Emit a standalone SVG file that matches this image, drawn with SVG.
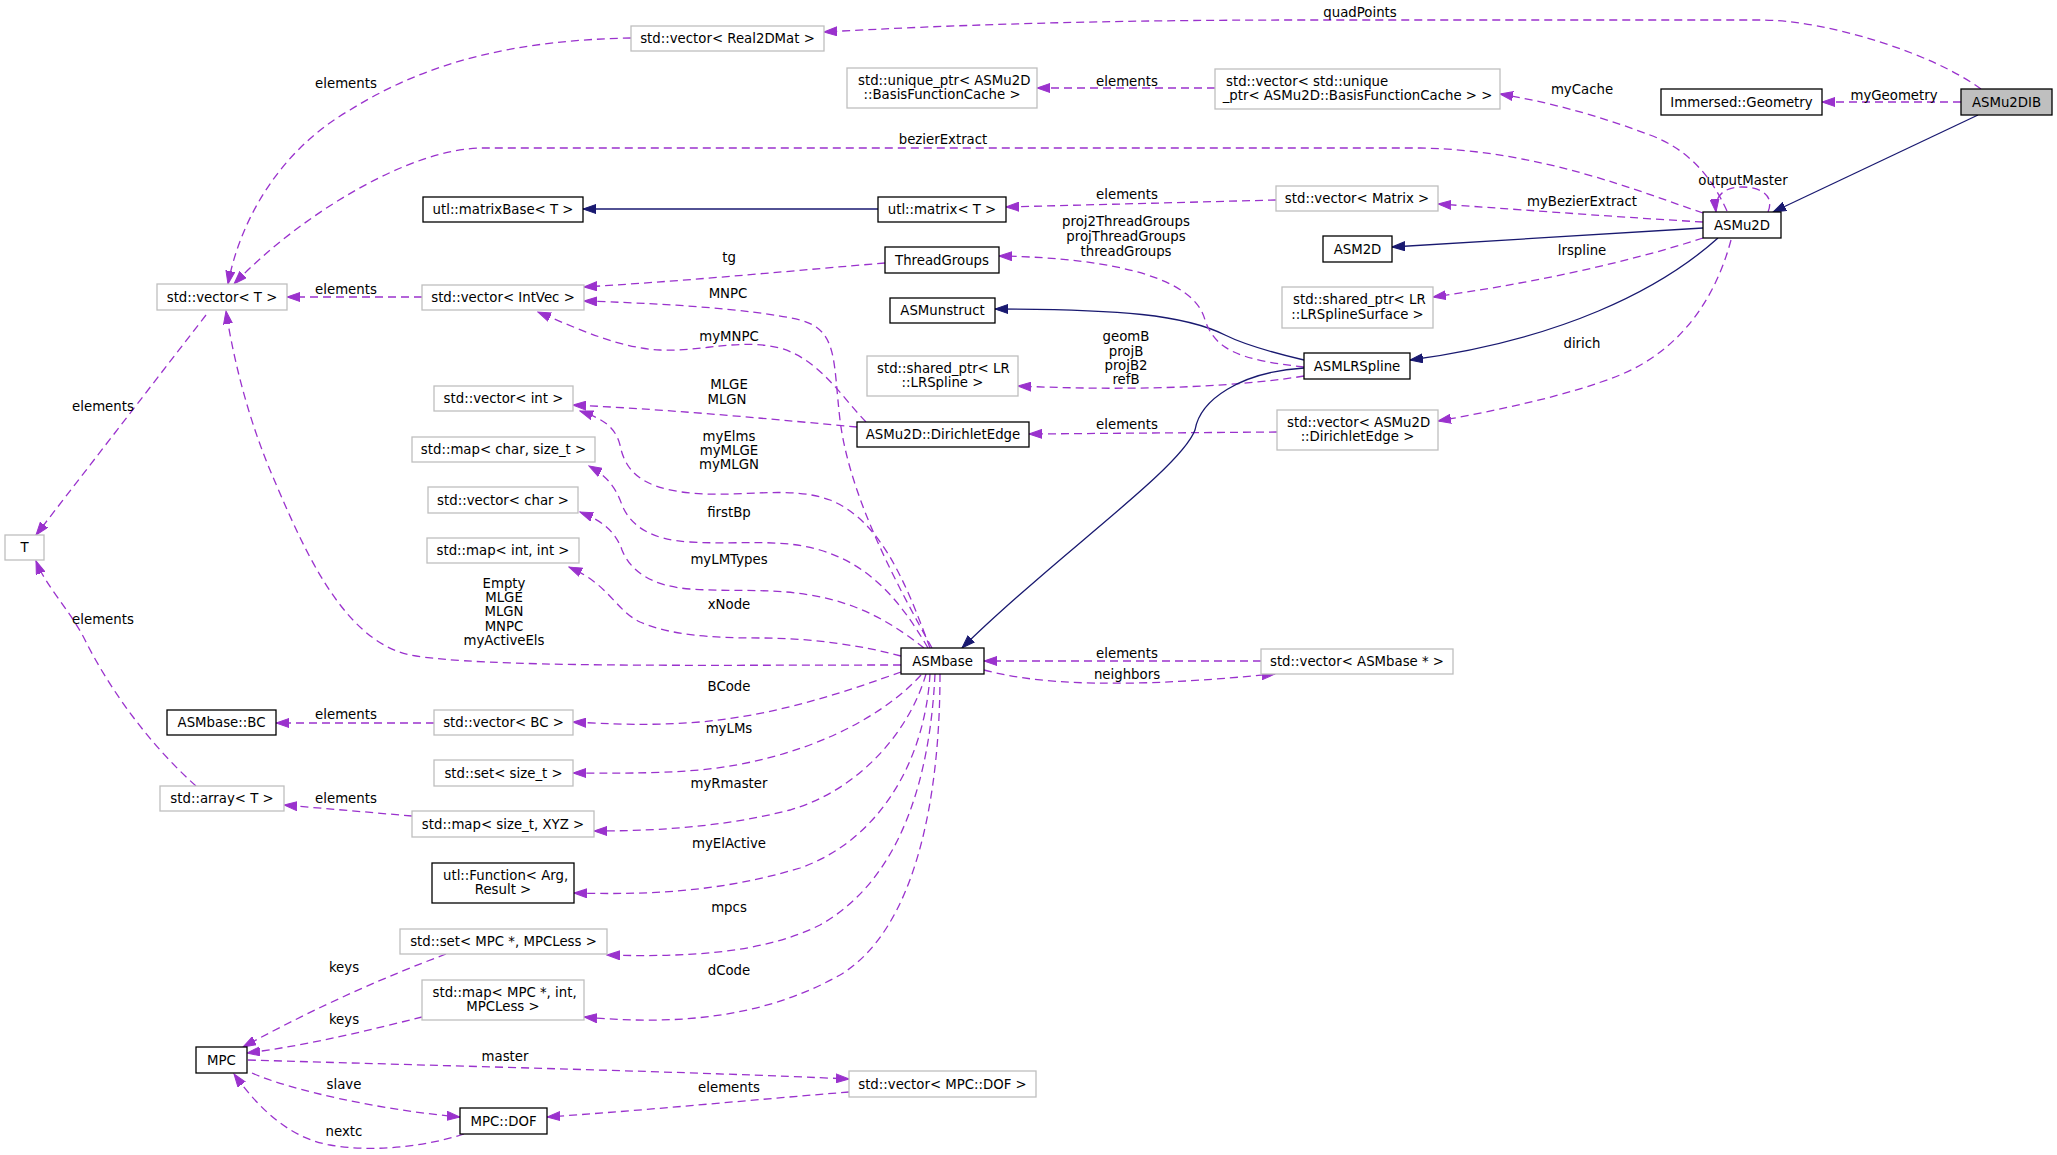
<svg xmlns="http://www.w3.org/2000/svg" width="2057" height="1155" viewBox="0 0 2057 1155">
<defs>
<style>
text { font-family: "DejaVu Sans", "Liberation Sans", sans-serif; font-size: 13.3px; fill: #000; }
.c { text-anchor: middle; }
.nb rect { fill: #fff; stroke: #000; stroke-width: 1.3; }
.ng rect { fill: #fff; stroke: #bfbfbf; stroke-width: 1.3; }
.e { fill: none; stroke: #9a32cd; stroke-width: 1.3; stroke-dasharray: 8,5; marker-end: url(#ap); }
.i { fill: none; stroke: #191970; stroke-width: 1.3; marker-end: url(#ab); }
</style>
<marker id="ap" markerUnits="userSpaceOnUse" markerWidth="14" markerHeight="10" viewBox="0 0 14 10" refX="13" refY="5" orient="auto"><path d="M0,0.5 L13,5 L0,9.5 z" fill="#9a32cd" stroke="#9a32cd" stroke-width="1"/></marker>
<marker id="ab" markerUnits="userSpaceOnUse" markerWidth="14" markerHeight="10" viewBox="0 0 14 10" refX="13" refY="5" orient="auto"><path d="M0,0.5 L13,5 L0,9.5 z" fill="#191970" stroke="#191970" stroke-width="1"/></marker>
</defs>
<rect x="0" y="0" width="2057" height="1155" fill="#fff"/>

<g id="connectors">
<g><path class="e" d="M1981,89 C1935,55 1830,20 1760,20 L1300,20 C1100,20 950,25 824,32"/><text class="c" x="1360" y="16.5">quadPoints</text></g>
<g><path class="e" d="M1961,102 L1822,102"/><text class="c" x="1894" y="99.5">myGeometry</text></g>
<g><path class="i" d="M1978,115 L1773,212"/></g>
<g><path class="e" d="M1215,88 L1037,88"/><text class="c" x="1127" y="85.5">elements</text></g>
<g><path class="e" d="M1727,211 C1712,178 1690,150 1650,135 C1610,120 1560,104 1500,94"/><text class="c" x="1582" y="93.5">myCache</text></g>
<g><path class="e" d="M1768,212 C1775,195 1760,187 1742,187 C1725,187 1714,195 1716,212"/><text class="c" x="1743" y="184.5">outputMaster</text></g>
<g><path class="e" d="M1703,213 C1640,192 1540,150 1420,148 L483,148 C410,148 300,215 234,284"/><text class="c" x="943" y="143.5">bezierExtract</text></g>
<g><path class="e" d="M1703,222 C1600,216 1500,208 1438,204"/><text class="c" x="1582" y="205.5">myBezierExtract</text></g>
<g><path class="e" d="M1276,200 L1006,207"/><text class="c" x="1127" y="198.5">elements</text></g>
<g><path class="i" d="M878,209 L583,209"/></g>
<g><path class="i" d="M1703,228 L1392,247"/></g>
<g><path class="e" d="M1703,238 C1620,265 1520,285 1433,297"/><text class="c" x="1582" y="254.5">lrspline</text></g>
<g><path class="i" d="M1718,238 C1660,290 1560,340 1410,360"/></g>
<g><path class="e" d="M1731,240 C1715,300 1680,350 1620,375 C1570,395 1500,410 1438,421"/><text class="c" x="1582" y="347.5">dirich</text></g>
<g><path class="e" d="M1277,432 L1029,434"/><text class="c" x="1127" y="428.5">elements</text></g>
<g><path class="i" d="M1304,360 C1270,352 1245,345 1225,335 C1185,315 1120,309 995,309"/></g>
<g><path class="e" d="M1304,367 C1240,360 1215,350 1205,320 C1195,280 1120,258 999,256"/><text class="c" x="1126" y="225.5">proj2ThreadGroups</text><text class="c" x="1126" y="240.5">projThreadGroups</text><text class="c" x="1126" y="255.5">threadGroups</text></g>
<g><path class="e" d="M1304,376 C1250,385 1150,392 1018,386"/><text class="c" x="1126" y="340.5">geomB</text><text class="c" x="1126" y="355.5">projB</text><text class="c" x="1126" y="369.5">projB2</text><text class="c" x="1126" y="384">refB</text></g>
<g><path class="i" d="M1304,368 C1240,372 1200,400 1195,430 C1180,470 1050,560 962,648"/></g>
<g><path class="e" d="M422,297 L287,297"/><text class="c" x="346" y="293.5">elements</text></g>
<g><path class="e" d="M885,263 C800,270 700,280 584,287"/><text class="c" x="729" y="261.5">tg</text></g>
<g><path class="e" d="M932,648 C900,590 850,500 840,420 C833,360 838,330 800,320 C750,308 650,303 584,301"/><text class="c" x="728" y="297.5">MNPC</text></g>
<g><path class="e" d="M866,422 C840,395 820,360 780,348 C740,338 700,352 660,350 C620,348 580,330 538,312"/><text class="c" x="729" y="340.5">myMNPC</text></g>
<g><path class="e" d="M857,427 C780,420 680,410 573,405"/><text class="c" x="729" y="389">MLGE</text><text class="c" x="727" y="404">MLGN</text></g>
<g><path class="e" d="M930,648 C905,580 880,520 830,500 C790,485 740,498 690,493 C640,488 625,470 620,445 C615,425 600,418 580,411"/><text class="c" x="729" y="440.5">myElms</text><text class="c" x="729" y="455">myMLGE</text><text class="c" x="729" y="469">myMLGN</text></g>
<g><path class="e" d="M928,648 C900,600 870,565 820,550 C780,538 740,545 690,542 C650,540 630,525 622,505 C615,485 605,475 589,466"/><text class="c" x="729" y="516.5">firstBp</text></g>
<g><path class="e" d="M924,648 C895,625 860,603 810,595 C770,588 730,592 690,589 C650,586 630,570 622,550 C615,530 600,520 580,512"/><text class="c" x="729" y="563.5">myLMTypes</text></g>
<g><path class="e" d="M901,656 C860,645 810,638 760,638 C710,638 670,635 640,622 C615,610 610,585 569,567"/><text class="c" x="729" y="608.5">xNode</text></g>
<g><path class="e" d="M901,665 C700,665 480,668 410,655 C340,640 300,540 270,470 C245,410 232,350 226,311"/><text class="c" x="504" y="587.5">Empty</text><text class="c" x="504" y="601.8">MLGE</text><text class="c" x="504" y="616">MLGN</text><text class="c" x="504" y="630.5">MNPC</text><text class="c" x="504" y="645">myActiveEls</text></g>
<g><path class="e" d="M206,315 L36,535"/><text class="c" x="103" y="410.5">elements</text></g>
<g><path class="e" d="M196,786 C150,745 110,690 85,640 C70,610 45,585 36,561"/><text class="c" x="103" y="623.5">elements</text></g>
<g><path class="e" d="M434,723 L276,723"/><text class="c" x="346" y="718.5">elements</text></g>
<g><path class="e" d="M901,672 C850,690 780,715 700,722 C650,726 610,724 573,722"/><text class="c" x="729" y="690.5">BCode</text></g>
<g><path class="e" d="M921,675 C880,720 800,760 700,770 C650,774 610,773 573,773"/><text class="c" x="729" y="732.5">myLMs</text></g>
<g><path class="e" d="M412,816 L284,805"/><text class="c" x="346" y="802.5">elements</text></g>
<g><path class="e" d="M926,674 C910,730 860,790 790,810 C720,828 650,831 594,831"/><text class="c" x="729" y="787.5">myRmaster</text></g>
<g><path class="e" d="M930,674 C925,760 880,840 800,868 C720,892 650,895 574,893"/><text class="c" x="729" y="847.5">myElActive</text></g>
<g><path class="e" d="M935,674 C930,780 900,880 820,925 C760,955 680,957 607,955"/><text class="c" x="729" y="911.5">mpcs</text></g>
<g><path class="e" d="M940,674 C940,800 915,930 840,975 C760,1020 670,1025 584,1017"/><text class="c" x="729" y="974.5">dCode</text></g>
<g><path class="e" d="M446,954 C390,975 320,1005 243,1047"/><text class="c" x="344" y="971.5">keys</text></g>
<g><path class="e" d="M422,1017 C370,1030 310,1045 247,1053"/><text class="c" x="344" y="1023.5">keys</text></g>
<g><path class="e" d="M248,1060 C450,1066 700,1072 849,1079"/><text class="c" x="505" y="1060.5">master</text></g>
<g><path class="e" d="M252,1073 C290,1090 380,1110 460,1117"/><text class="c" x="344" y="1088.5">slave</text></g>
<g><path class="e" d="M464,1134 C420,1148 370,1152 330,1145 C290,1138 260,1110 234,1074"/><text class="c" x="344" y="1135.5">nextc</text></g>
<g><path class="e" d="M849,1092 C750,1100 650,1110 547,1117"/><text class="c" x="729" y="1091.5">elements</text></g>
<g><path class="e" d="M984,670 C1030,682 1080,684 1136,683 C1190,682 1240,677 1275,674"/><text class="c" x="1127" y="678.5">neighbors</text></g>
<g><path class="e" d="M1261,661 L984,661"/><text class="c" x="1127" y="657.5">elements</text></g>
<g><path class="e" d="M631,38 C520,40 430,60 350,110 C280,150 240,220 228,284"/><text class="c" x="346" y="87.5">elements</text></g>
</g>

<g id="n_ASMu2DIB" class="nb"><rect x="1961" y="89" width="91" height="26" style="fill:#bfbfbf"/><text class="c" x="2006.5" y="106.7">ASMu2DIB</text></g>
<g id="n_ImmersedGeometry" class="nb"><rect x="1661" y="89" width="161" height="26"/><text class="c" x="1741.5" y="106.7">Immersed::Geometry</text></g>
<g id="n_vecReal2DMat" class="ng"><rect x="631" y="26" width="193" height="25"/><text class="c" x="727.5" y="43.2">std::vector&lt; Real2DMat &gt;</text></g>
<g id="n_uniqueBFC" class="ng"><rect x="847" y="68" width="190" height="40"/><text x="858" y="84.5">std::unique_ptr&lt; ASMu2D</text><text class="c" x="942" y="99">::BasisFunctionCache &gt;</text></g>
<g id="n_vecUniqueBFC" class="ng"><rect x="1215" y="69" width="285" height="40"/><text x="1226" y="85.5">std::vector&lt; std::unique</text><text class="c" x="1357.5" y="100">_ptr&lt; ASMu2D::BasisFunctionCache &gt; &gt;</text></g>
<g id="n_vecMatrix" class="ng"><rect x="1276" y="186" width="162" height="25"/><text class="c" x="1357" y="203.2">std::vector&lt; Matrix &gt;</text></g>
<g id="n_ASMu2D" class="nb"><rect x="1703" y="212" width="78" height="26"/><text class="c" x="1742" y="229.7">ASMu2D</text></g>
<g id="n_ASM2D" class="nb"><rect x="1323" y="236" width="69" height="26"/><text class="c" x="1357.5" y="253.7">ASM2D</text></g>
<g id="n_sharedLRSurf" class="ng"><rect x="1282" y="287" width="151" height="41"/><text x="1293" y="304">std::shared_ptr&lt; LR</text><text class="c" x="1357.5" y="318.5">::LRSplineSurface &gt;</text></g>
<g id="n_ASMLRSpline" class="nb"><rect x="1304" y="353" width="106" height="26"/><text class="c" x="1357" y="370.7">ASMLRSpline</text></g>
<g id="n_vecDirichlet" class="ng"><rect x="1277" y="410" width="161" height="40"/><text x="1287" y="426.5">std::vector&lt; ASMu2D</text><text class="c" x="1357.5" y="441">::DirichletEdge &gt;</text></g>
<g id="n_vecASMbasePtr" class="ng"><rect x="1261" y="649" width="192" height="25"/><text class="c" x="1357" y="666.2">std::vector&lt; ASMbase * &gt;</text></g>
<g id="n_utlmatrix" class="nb"><rect x="878" y="197" width="128" height="25"/><text class="c" x="942" y="214.2">utl::matrix&lt; T &gt;</text></g>
<g id="n_utlmatrixBase" class="nb"><rect x="423" y="197" width="160" height="25"/><text class="c" x="503" y="214.2">utl::matrixBase&lt; T &gt;</text></g>
<g id="n_ThreadGroups" class="nb"><rect x="885" y="247" width="114" height="26"/><text class="c" x="942" y="264.7">ThreadGroups</text></g>
<g id="n_ASMunstruct" class="nb"><rect x="890" y="298" width="105" height="25"/><text class="c" x="942.5" y="315.2">ASMunstruct</text></g>
<g id="n_sharedLRSpline" class="ng"><rect x="867" y="356" width="151" height="40"/><text x="877" y="372.5">std::shared_ptr&lt; LR</text><text class="c" x="942.5" y="387">::LRSpline &gt;</text></g>
<g id="n_DirichletEdge" class="nb"><rect x="857" y="422" width="172" height="25"/><text class="c" x="943" y="439.2">ASMu2D::DirichletEdge</text></g>
<g id="n_ASMbase" class="nb"><rect x="901" y="648" width="83" height="26"/><text class="c" x="942.5" y="665.7">ASMbase</text></g>
<g id="n_vecT" class="ng"><rect x="157" y="284" width="130" height="26"/><text class="c" x="222" y="301.7">std::vector&lt; T &gt;</text></g>
<g id="n_vecIntVec" class="ng"><rect x="422" y="285" width="162" height="25"/><text class="c" x="503" y="302.2">std::vector&lt; IntVec &gt;</text></g>
<g id="n_T" class="ng"><rect x="5" y="535" width="39" height="25"/><text class="c" x="24.5" y="552.2">T</text></g>
<g id="n_vecInt" class="ng"><rect x="434" y="386" width="139" height="25"/><text class="c" x="503.5" y="403.2">std::vector&lt; int &gt;</text></g>
<g id="n_mapCharSize" class="ng"><rect x="412" y="437" width="183" height="25"/><text class="c" x="503.5" y="454.2">std::map&lt; char, size_t &gt;</text></g>
<g id="n_vecChar" class="ng"><rect x="428" y="487" width="150" height="26"/><text class="c" x="503" y="504.7">std::vector&lt; char &gt;</text></g>
<g id="n_mapIntInt" class="ng"><rect x="427" y="538" width="152" height="25"/><text class="c" x="503" y="555.2">std::map&lt; int, int &gt;</text></g>
<g id="n_ASMbaseBC" class="nb"><rect x="167" y="710" width="109" height="25"/><text class="c" x="221.5" y="727.2">ASMbase::BC</text></g>
<g id="n_vecBC" class="ng"><rect x="434" y="710" width="139" height="25"/><text class="c" x="503.5" y="727.2">std::vector&lt; BC &gt;</text></g>
<g id="n_setSize" class="ng"><rect x="434" y="760" width="139" height="26"/><text class="c" x="503.5" y="777.7">std::set&lt; size_t &gt;</text></g>
<g id="n_arrayT" class="ng"><rect x="160" y="786" width="124" height="25"/><text class="c" x="222" y="803.2">std::array&lt; T &gt;</text></g>
<g id="n_mapSizeXYZ" class="ng"><rect x="412" y="811" width="182" height="26"/><text class="c" x="503" y="828.7">std::map&lt; size_t, XYZ &gt;</text></g>
<g id="n_utlFunction" class="nb"><rect x="432" y="863" width="142" height="40"/><text x="443" y="879.5">utl::Function&lt; Arg,</text><text class="c" x="503" y="894">Result &gt;</text></g>
<g id="n_setMPC" class="ng"><rect x="400" y="929" width="207" height="25"/><text class="c" x="503.5" y="946.2">std::set&lt; MPC *, MPCLess &gt;</text></g>
<g id="n_mapMPC" class="ng"><rect x="422" y="980" width="162" height="40"/><text x="432.5" y="996.5">std::map&lt; MPC *, int,</text><text class="c" x="503" y="1011">MPCLess &gt;</text></g>
<g id="n_MPC" class="nb"><rect x="196" y="1047" width="51" height="26"/><text class="c" x="221.5" y="1064.7">MPC</text></g>
<g id="n_MPCDOF" class="nb"><rect x="460" y="1108" width="87" height="26"/><text class="c" x="503.5" y="1125.7">MPC::DOF</text></g>
<g id="n_vecMPCDOF" class="ng"><rect x="849" y="1071" width="187" height="26"/><text class="c" x="942.5" y="1088.7">std::vector&lt; MPC::DOF &gt;</text></g>
</svg>
